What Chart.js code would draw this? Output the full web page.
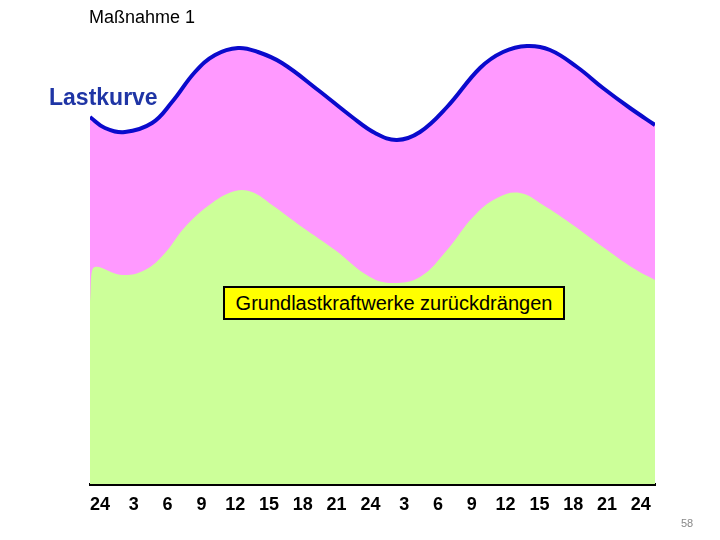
<!DOCTYPE html>
<html>
<head>
<meta charset="utf-8">
<script src="https://cdn.jsdelivr.net/npm/chart.js@4.4.0/dist/chart.umd.min.js"></script>
<style>
  body { margin: 0; background: #fff; font-family: Arial, "Liberation Sans", sans-serif; }
  #wrap { position: relative; width: 720px; height: 540px; }
  .lbl { position: absolute; white-space: nowrap; }
</style>
</head>
<body>
<div id="wrap">
  <canvas id="chart" width="720" height="540"></canvas>
  <div class="lbl" style="left:89px; top:7px; font-size:18px; color:#000;">Maßnahme 1</div>
  <div class="lbl" style="left:49px; top:84px; font-size:23px; font-weight:bold; color:#1f35a5;">Lastkurve</div>
  <div class="lbl" style="left:223px; top:286px; width:338px; height:30px; line-height:30px; text-align:center; background:#ffff00; border:2px solid #000; font-size:20px; color:#000;">Grundlastkraftwerke zurückdrängen</div>
  <div class="lbl" style="left:681px; top:517px; font-size:11px; color:#888;">58</div>
</div>
<script>
// hours (0 = midnight of day 1) and load values
const lastHours = [-0.89, 0.44, 2.22, 4.62, 6.39, 8.43, 10.21, 12.25, 14.02, 16.15, 19.35, 22.37, 24.41, 26.36, 28.40, 30.80, 33.73, 35.77, 37.90, 39.94, 42.34, 44.64, 47.04, 49.26];
const lastLoad = [36.7, 35.6, 35.2, 36.1, 38.2, 41.2, 42.9, 43.6, 43.2, 42.1, 39.4, 36.7, 35.1, 34.4, 35.2, 37.7, 41.6, 43.2, 43.8, 43.4, 41.7, 39.6, 37.6, 35.9];

const grundHours = [-0.89, -0.62, 1.95, 3.99, 5.77, 7.54, 9.94, 11.98, 13.49, 15.27, 17.93, 20.86, 23.96, 26.01, 28.40, 30.80, 33.11, 35.24, 37.28, 39.32, 41.72, 44.64, 47.31, 49.26];
const grundLoad = [18.2, 21.6, 20.9, 21.4, 23.1, 25.7, 28.1, 29.3, 29.2, 27.9, 25.7, 23.4, 20.7, 20.1, 20.7, 23.4, 26.7, 28.6, 29.1, 27.9, 26.1, 23.7, 21.6, 20.4];

const tickValues = [0, 3, 6, 9, 12, 15, 18, 21, 24, 27, 30, 33, 36, 39, 42, 45, 48];
const tickLabels = ['24', '3', '6', '9', '12', '15', '18', '21', '24', '3', '6', '9', '12', '15', '18', '21', '24'];

new Chart(document.getElementById('chart'), {
  type: 'line',
  data: {
    datasets: [
      {
        label: 'Grundlast',
        data: grundHours.map((h, i) => ({ x: h, y: grundLoad[i] })),
        borderWidth: 0,
        borderColor: 'rgba(0,0,0,0)',
        backgroundColor: '#ccff99',
        fill: 'origin',
        pointRadius: 0,
        tension: 0.4
      },
      {
        label: 'Lastkurve',
        data: lastHours.map((h, i) => ({ x: h, y: lastLoad[i] })),
        borderWidth: 4,
        borderColor: '#0a0acc',
        backgroundColor: '#ff99ff',
        fill: 'origin',
        pointRadius: 0,
        tension: 0.4
      }
    ]
  },
  options: {
    responsive: false,
    animation: false,
    layout: { padding: { left: 90, right: 65, top: 34, bottom: 0 } },
    plugins: { legend: { display: false }, tooltip: { enabled: false } },
    scales: {
      x: {
        type: 'linear',
        min: -0.89,
        max: 49.26,
        grid: { display: false },
        border: { display: true, color: '#000', width: 3 },
        afterBuildTicks: (scale) => { scale.ticks = tickValues.map(v => ({ value: v })); },
        afterFit: (scale) => { scale.height = 56; },
        ticks: {
          autoSkip: false,
          maxRotation: 0,
          padding: 2,
          color: '#000',
          font: { family: 'Arial, "Liberation Sans"', size: 18, weight: 'bold' },
          callback: (v, i) => tickLabels[i]
        }
      },
      y: {
        display: false,
        min: 0,
        max: 45
      }
    }
  }
});
</script>
</body>
</html>
